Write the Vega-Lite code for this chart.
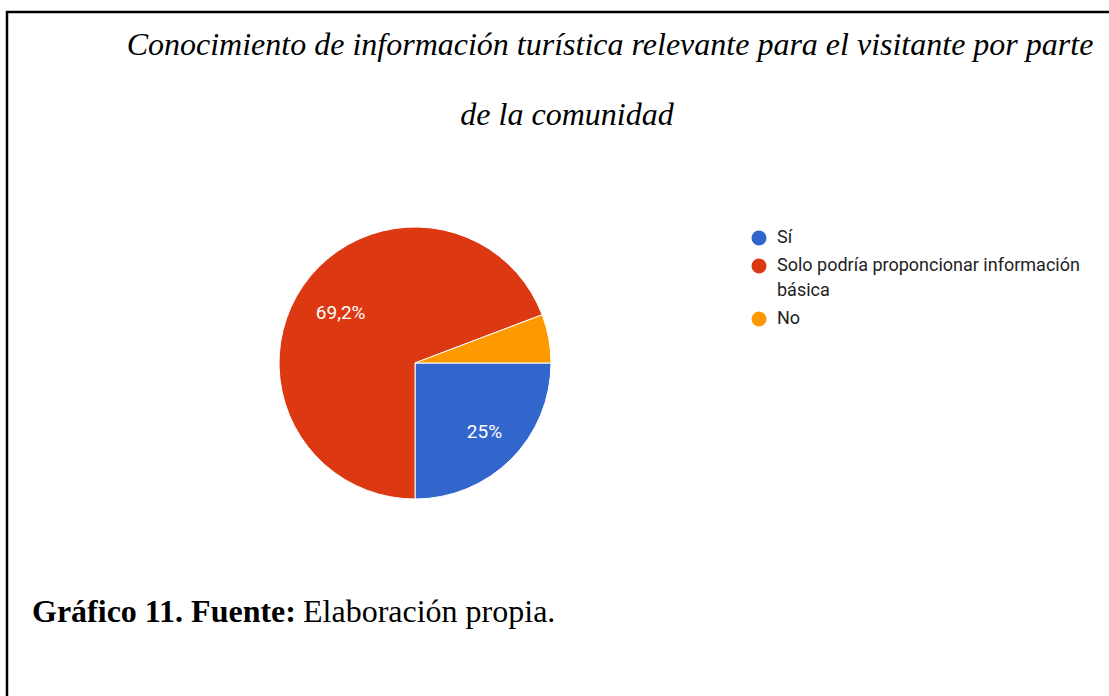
{
  "$schema": "https://vega.github.io/schema/vega-lite/v6.json",
  "width": 1102,
  "height": 684,
  "autosize": "none",
  "padding": {"left": 7, "top": 12, "right": 0, "bottom": 0},
  "background": "white",
  "config": {
    "view": {"stroke": null},
    "style": {"guide-label": {"lineHeight": 25}}
  },
  "layer": [
    {
      "data": {"values": [{"marco": "borde"}]},
      "mark": {"type": "rect", "x": 0, "y": 0, "x2": 1106, "y2": 692, "fill": null, "stroke": "black", "strokeWidth": 2.5, "clip": false},
      "encoding": {}
    },
    {
      "data": {"name": "respuestas", "values": [
        {"respuesta": "Sí", "n": 13, "orden": 1, "etiqueta": "25%"},
        {"respuesta": "Solo podría proponcionar información básica", "n": 36, "orden": 2, "etiqueta": "69,2%"},
        {"respuesta": "No", "n": 3, "orden": 3, "etiqueta": ""}
      ]},
      "mark": {"type": "arc", "x": 408, "y": 351, "outerRadius": 136, "stroke": "white", "strokeWidth": 1},
      "encoding": {
        "theta": {"field": "n", "type": "quantitative", "stack": true, "scale": {"range": [1.5707963268, 7.853981634]}},
        "order": {"field": "orden", "type": "quantitative"},
        "color": {
          "field": "respuesta", "type": "nominal",
          "scale": {
            "domain": ["Sí", "Solo podría proponcionar información básica", "No"],
            "range": ["#3366cc", "#dc3912", "#ff9900"]
          },
          "legend": {
            "orient": "none", "legendX": 743, "legendY": 217, "title": null,
            "symbolType": "circle", "symbolSize": 225, "symbolStrokeWidth": 0,
            "labelFont": "Roboto", "labelFontSize": 18, "labelColor": "#222222",
            "labelOffset": 9, "labelLimit": 400, "rowPadding": 10,
            "labelExpr": "datum.label == 'Solo podría proponcionar información básica' ? ['Solo podría proponcionar información', 'básica'] : datum.label"
          }
        }
      }
    },
    {
      "data": {"name": "respuestas"},
      "mark": {"type": "text", "x": 408, "y": 351, "radius": 94, "dx": 3, "dy": 3, "fill": "white", "font": "Roboto", "fontSize": 19, "align": "center", "baseline": "middle"},
      "encoding": {
        "theta": {"field": "n", "type": "quantitative", "stack": true},
        "order": {"field": "orden", "type": "quantitative"},
        "text": {"field": "etiqueta"}
      }
    },
    {
      "data": {"values": [{"texto": "Conocimiento de información turística relevante para el visitante por parte"}]},
      "mark": {"type": "text", "x": 603, "y": 43, "align": "center", "baseline": "alphabetic", "font": "Liberation Serif", "fontStyle": "italic", "fontSize": 32, "fill": "black"},
      "encoding": {"text": {"field": "texto"}}
    },
    {
      "data": {"values": [{"texto": "de la comunidad"}]},
      "mark": {"type": "text", "x": 560, "y": 113, "align": "center", "baseline": "alphabetic", "font": "Liberation Serif", "fontStyle": "italic", "fontSize": 32, "fill": "black"},
      "encoding": {"text": {"field": "texto"}}
    },
    {
      "data": {"values": [{"texto": "Gráfico 11. Fuente:"}]},
      "mark": {"type": "text", "x": 25, "y": 610, "align": "left", "baseline": "alphabetic", "font": "Liberation Serif", "fontWeight": "bold", "fontSize": 32, "fill": "black"},
      "encoding": {"text": {"field": "texto"}}
    },
    {
      "data": {"values": [{"texto": "Elaboración propia."}]},
      "mark": {"type": "text", "x": 296, "y": 610, "align": "left", "baseline": "alphabetic", "font": "Liberation Serif", "fontSize": 32, "fill": "black"},
      "encoding": {"text": {"field": "texto"}}
    }
  ]
}
